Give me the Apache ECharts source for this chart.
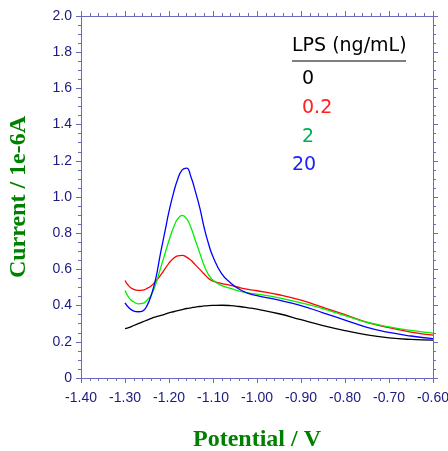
<!DOCTYPE html>
<html><head><meta charset="utf-8">
<script src="https://cdn.jsdelivr.net/npm/echarts@6/dist/echarts.min.js"></script>
<style>html,body{margin:0;padding:0;background:#fff}#c{width:448px;height:451px}</style>
</head><body><div id="c"></div>
<script>
const potential = [-1.30,-1.29,-1.28,-1.27,-1.26,-1.25,-1.24,-1.23,-1.22,-1.21,-1.20,-1.19,-1.18,-1.17,-1.16,-1.15,-1.14,-1.13,-1.12,-1.11,-1.10,-1.08,-1.06,-1.04,-1.02,-1.00,-0.95,-0.90,-0.85,-0.80,-0.75,-0.70,-0.65,-0.60];
const lps0   = [0.273,0.280,0.290,0.300,0.310,0.320,0.330,0.338,0.345,0.352,0.360,0.366,0.372,0.378,0.384,0.388,0.392,0.395,0.398,0.400,0.401,0.402,0.400,0.395,0.388,0.380,0.355,0.322,0.290,0.262,0.238,0.222,0.213,0.209];
const lps02  = [0.539,0.505,0.490,0.484,0.485,0.495,0.510,0.535,0.565,0.600,0.635,0.660,0.675,0.677,0.668,0.650,0.625,0.600,0.575,0.550,0.535,0.522,0.512,0.500,0.490,0.482,0.460,0.430,0.390,0.350,0.308,0.278,0.254,0.237];
const lps2   = [0.483,0.440,0.420,0.410,0.412,0.430,0.460,0.520,0.600,0.680,0.760,0.830,0.880,0.898,0.880,0.830,0.760,0.690,0.620,0.570,0.540,0.510,0.495,0.480,0.470,0.463,0.443,0.415,0.383,0.345,0.308,0.283,0.263,0.248];
const lps20  = [0.415,0.385,0.370,0.366,0.370,0.400,0.460,0.550,0.680,0.800,0.920,1.020,1.100,1.150,1.160,1.110,1.030,0.940,0.830,0.740,0.670,0.575,0.525,0.490,0.468,0.455,0.430,0.400,0.360,0.320,0.280,0.252,0.232,0.217];
const legendTitle = 'LPS (ng/mL)';
const legendLabels = ['0','0.2','2','20'];
const lineColors = ['#000000','#ff0000','#00ee00','#0000ff'];
const labelColors = ['#000000','#ff2020','#00b050','#2020ff'];
const seriesData = [lps0, lps02, lps2, lps20];

const axisCol = '#6a6abf';
const labCol = '#1a1a80';
const chart = echarts.init(document.getElementById('c'), null, {renderer:'canvas'});
const xCommon = {
  type:'value', min:-1.4, max:-0.6, interval:0.1,
  axisLine:{show:true, onZero:false, lineStyle:{color:axisCol, width:1}},
  axisTick:{show:true, inside:false, length:5, lineStyle:{color:axisCol}},
  minorTick:{show:true, splitNumber:5, length:3, lineStyle:{color:axisCol}},
  splitLine:{show:false}
};
const yCommon = {
  type:'value', min:0, max:2, interval:0.2,
  axisLine:{show:true, onZero:false, lineStyle:{color:axisCol, width:1}},
  axisTick:{show:true, inside:false, length:5, lineStyle:{color:axisCol}},
  minorTick:{show:true, splitNumber:4, length:3, lineStyle:{color:axisCol}},
  splitLine:{show:false}
};
const legendY = [79,108,137,165];
const legendX = [302,302,302,292];
const graphics = [
  {type:'text', left:292, top:37, style:{text:legendTitle, font:'19px "DejaVu Sans"', fill:'#000'}},
  {type:'line', shape:{x1:292, y1:61, x2:406, y2:61}, style:{stroke:'#000', lineWidth:1}}
];
legendLabels.forEach((t,i)=>{
  graphics.push({type:'text', x:legendX[i], y:legendY[i], style:{text:t, font:'19px "DejaVu Sans"', fill:labelColors[i], verticalAlign:'middle', align:'left'}});
});
chart.setOption({
  animation:false,
  backgroundColor:'#fff',
  grid:{left:81, right:15, top:16, bottom:73, containLabel:false, outerBoundsMode:'none'},
  xAxis:[
    Object.assign({}, xCommon, {position:'bottom',
      axisLabel:{color:labCol, fontFamily:'"Liberation Sans", Arial', fontSize:14, margin:13, formatter:v=>v.toFixed(2)},
      name:'Potential / V', nameLocation:'middle', nameGap:50,
      nameTextStyle:{color:'#008000', fontFamily:'"Liberation Serif", "Times New Roman", serif', fontWeight:'bold', fontSize:24}}),
    Object.assign({}, xCommon, {position:'top', axisLabel:{show:false}})
  ],
  yAxis:[
    Object.assign({}, yCommon, {position:'left',
      axisLabel:{color:labCol, fontFamily:'"Liberation Sans", Arial', fontSize:14, margin:9, formatter:v=>v===0?'0':v.toFixed(1)},
      name:'Current / 1e-6A', nameLocation:'middle', nameGap:50,
      nameTextStyle:{color:'#008000', fontFamily:'"Liberation Serif", "Times New Roman", serif', fontWeight:'bold', fontSize:24}}),
    Object.assign({}, yCommon, {position:'right', axisLabel:{show:false}})
  ],
  graphic:graphics,
  series: seriesData.map((d,i)=>({
    type:'line', name:legendLabels[i], showSymbol:false, smooth:0.5,
    lineStyle:{color:lineColors[i], width:1.3},
    data: potential.map((x,j)=>[x,d[j]])
  }))
});
</script></body></html>
